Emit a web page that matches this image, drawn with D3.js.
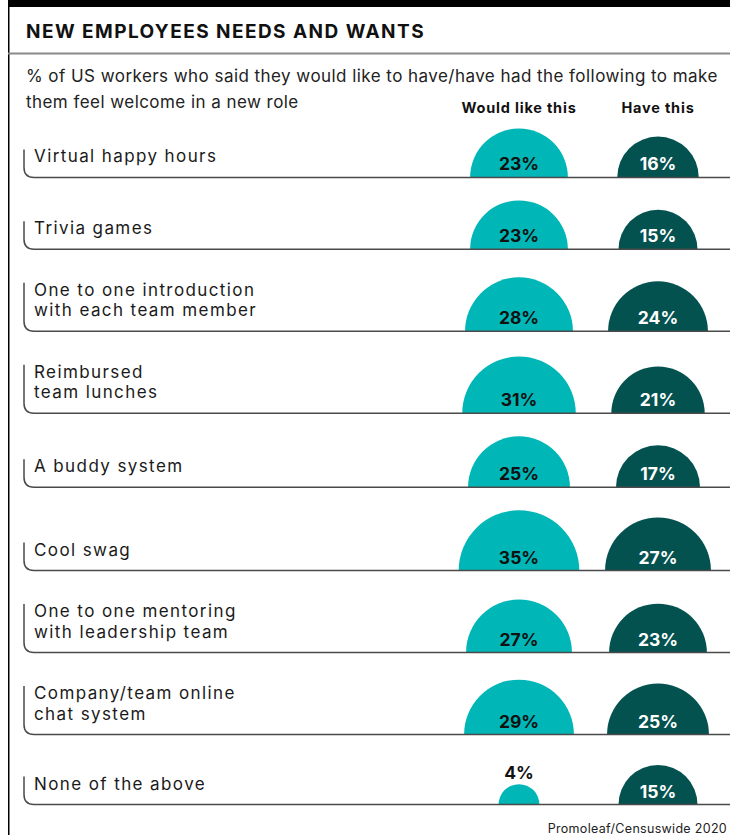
<!DOCTYPE html>
<html>
<head>
<meta charset="utf-8">
<script src="https://cdn.jsdelivr.net/npm/d3@7"></script>
<style>
  html, body { margin: 0; padding: 0; background: #fff; }
  svg { display: block; }
</style>
</head>
<body>
<svg id="chart" width="730" height="835"></svg>
<script>
// ---------- data ----------
const categories = [
  "Virtual happy hours",
  "Trivia games",
  "One to one introduction\nwith each team member",
  "Reimbursed\nteam lunches",
  "A buddy system",
  "Cool swag",
  "One to one mentoring\nwith leadership team",
  "Company/team online\nchat system",
  "None of the above"
];
const seriesNames = ["Would like this", "Have this"];
const wouldLikeThis = [23, 23, 28, 31, 25, 35, 27, 29, 4];
const haveThis      = [16, 15, 24, 21, 17, 27, 23, 25, 15];
const titleText = "NEW EMPLOYEES NEEDS AND WANTS";
const subtitleLines = [
  "% of US workers who said they would like to have/have had the following to make",
  "them feel welcome in a new role"
];
const sourceText = "Promoleaf/Censuswide 2020";

// ---------- style ----------
const W = 730, H = 835;
const teal = "#00b6b6", dark = "#03524f";
const lineColor = "#4a4a4a";
const font = "Inter, 'Noto Sans', sans-serif";

const svg = d3.select("#chart");

// frame
svg.append("rect").attr("x", 8).attr("y", 0).attr("width", W - 8).attr("height", 7).attr("fill", "#000");
svg.append("line").attr("x1", 8.75).attr("x2", 8.75).attr("y1", 0).attr("y2", H)
  .attr("stroke", "#000").attr("stroke-width", 1.5);
svg.append("line").attr("x1", 8).attr("x2", W).attr("y1", 53.5).attr("y2", 53.5)
  .attr("stroke", "#8a8a8a").attr("stroke-width", 2);

// title
svg.append("text").attr("x", 26).attr("y", 38)
  .attr("font-family", font).attr("font-weight", 700).attr("font-size", 19)
  .attr("letter-spacing", 1.45).attr("fill", "#111").text(titleText);

// subtitle
svg.selectAll("text.sub").data(subtitleLines).join("text").attr("class", "sub")
  .attr("x", 26).attr("y", (d, i) => 81.5 + i * 26.5)
  .attr("font-family", font).attr("font-size", 17).attr("font-weight", 400)
  .attr("letter-spacing", 0.45).attr("fill", "#222").text(d => d);

// scales
const x = d3.scalePoint().domain(seriesNames).range([519, 658]);
const r = d3.scaleSqrt().domain([0, 35]).range([0, 60.3]);

// column headers
svg.selectAll("text.hdr").data(seriesNames).join("text").attr("class", "hdr")
  .attr("x", d => x(d)).attr("y", 113).attr("text-anchor", "middle")
  .attr("font-family", font).attr("font-weight", 700).attr("font-size", 14.5)
  .attr("letter-spacing", 0.8).attr("fill", "#111").text(d => d);

// rows layout: height derived from label lines and largest semicircle
const rows = categories.map((c, i) => ({
  label: c.split("\n"),
  values: [wouldLikeThis[i], haveThis[i]]
}));
let yCursor = 105.5;
rows.forEach(row => {
  const rmax = d3.max(row.values, v => r(v));
  const gap = Math.max(rmax + 23, row.label.length === 1 ? 70 : 82);
  yCursor += gap;
  row.base = yCursor;
});

const g = svg.selectAll("g.row").data(rows).join("g").attr("class", "row");

// semicircles
const arc = d3.arc().innerRadius(0).startAngle(-Math.PI / 2).endAngle(Math.PI / 2);
g.each(function(row) {
  const sel = d3.select(this);
  row.values.forEach((v, j) => {
    const rad = r(v);
    const cx = x(seriesNames[j]);
    sel.append("path")
      .attr("transform", `translate(${cx},${row.base})`)
      .attr("d", arc.outerRadius(rad)())
      .attr("fill", j === 0 ? teal : dark);
    const inside = rad > 28;
    sel.append("text")
      .attr("x", cx)
      .attr("y", inside ? row.base - 7 : row.base - rad - 5)
      .attr("text-anchor", "middle")
      .attr("font-family", font).attr("font-weight", 700).attr("font-size", 17.5)
      .attr("fill", inside && j === 1 ? "#fff" : "#111")
      .text(v + "%");
  });
});

// brackets + row labels
const lineH = 20.5;
g.each(function(row) {
  const sel = d3.select(this);
  const n = row.label.length;
  const lastBase = row.base - 15;
  const firstBase = lastBase - (n - 1) * lineH;
  const top = firstBase - 13;
  const cr = 10;
  sel.append("path")
    .attr("d", `M24,${top} V${row.base - cr} Q24,${row.base} ${24 + cr},${row.base} H${W}`)
    .attr("fill", "none").attr("stroke", lineColor).attr("stroke-width", 1.5);
  row.label.forEach((t, k) => {
    sel.append("text").attr("x", 34).attr("y", firstBase + k * lineH)
      .attr("font-family", font).attr("font-size", 17).attr("letter-spacing", 1.4)
      .attr("fill", "#1a1a1a").text(t);
  });
});

// source
svg.append("text").attr("x", 727).attr("y", 833).attr("text-anchor", "end")
  .attr("font-family", font).attr("font-size", 12.5).attr("letter-spacing", 0.3)
  .attr("fill", "#222").text(sourceText);
</script>
</body>
</html>
